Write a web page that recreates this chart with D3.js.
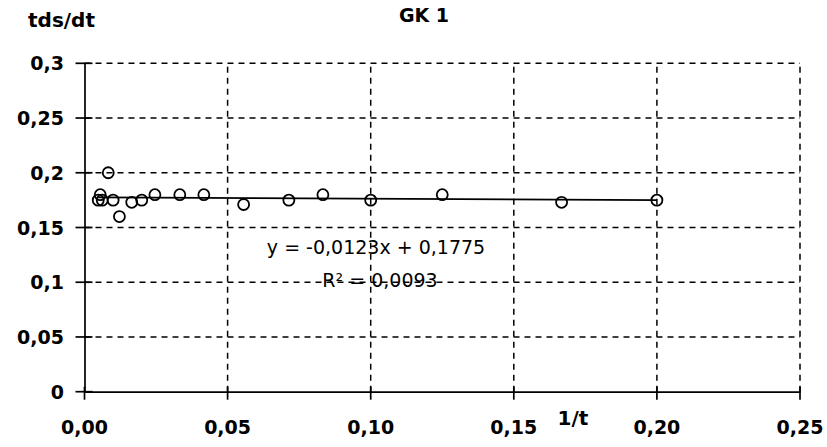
<!DOCTYPE html>
<html>
<head>
<meta charset="utf-8">
<script src="https://cdn.jsdelivr.net/npm/d3@7"></script>
<style>
  html, body { margin: 0; padding: 0; background: #fff; }
  svg { display: block; }
  text { font-family: "DejaVu Sans", sans-serif; fill: #000; }
</style>
</head>
<body>
<svg id="chart" width="827" height="447"></svg>
<script>
// Data
const xValues = [0.0048, 0.0055, 0.0062, 0.0083, 0.0100, 0.0122, 0.0165, 0.0200, 0.0246, 0.0333, 0.0417, 0.0556, 0.0714, 0.0833, 0.1000, 0.1250, 0.1667, 0.2000];
const yValues = [0.175, 0.180, 0.175, 0.200, 0.175, 0.160, 0.173, 0.175, 0.180, 0.180, 0.180, 0.171, 0.175, 0.180, 0.175, 0.180, 0.173, 0.175];
const xTicks = [0, 0.05, 0.10, 0.15, 0.20, 0.25];
const yTicks = [0, 0.05, 0.1, 0.15, 0.2, 0.25, 0.3];
const xTickLabels = ["0,00", "0,05", "0,10", "0,15", "0,20", "0,25"];
const yTickLabels = ["0", "0,05", "0,1", "0,15", "0,2", "0,25", "0,3"];
const trendSlope = -0.0123;
const trendIntercept = 0.1775;
const titleText = "GK 1";
const yTitle = "tds/dt";
const xTitle = "1/t";
const eqText = "y = -0,0123x + 0,1775";
const r2Text = "R² = 0,0093";

const svg = d3.select("#chart");
const x = d3.scaleLinear().domain([0, 0.25]).range([84.5, 800]);
const y = d3.scaleLinear().domain([0, 0.3]).range([391.7, 63.3]);

// Gridlines (dashed)
const grid = svg.append("g");
grid.selectAll("line.h").data(yTicks.slice(1)).enter().append("line")
  .attr("x1", x(0)).attr("x2", x(0.25))
  .attr("y1", d => y(d)).attr("y2", d => y(d))
  .attr("stroke", "#000").attr("stroke-width", 1.5).attr("stroke-dasharray", "6,5");
grid.selectAll("line.v").data(xTicks.slice(1)).enter().append("line")
  .attr("x1", d => x(d)).attr("x2", d => x(d))
  .attr("y1", y(0)).attr("y2", y(0.3))
  .attr("stroke", "#000").attr("stroke-width", 1.5).attr("stroke-dasharray", "6,5");

// Axes
const yAxis = d3.axisLeft(y).tickValues(yTicks).tickSize(0).tickFormat("");
const xAxis = d3.axisBottom(x).tickValues(xTicks).tickSize(0).tickFormat("");
const gy = svg.append("g").attr("transform", `translate(${x(0)},0)`).call(yAxis);
const gx = svg.append("g").attr("transform", `translate(0,${y(0)})`).call(xAxis);
gy.select(".domain").attr("stroke", "#000").attr("stroke-width", 1.7);
gx.select(".domain").attr("stroke", "#000").attr("stroke-width", 1.7);

// cross ticks
svg.append("g").selectAll("line").data(yTicks).enter().append("line")
  .attr("x1", x(0) - 9).attr("x2", x(0) + 8)
  .attr("y1", d => y(d)).attr("y2", d => y(d))
  .attr("stroke", "#000").attr("stroke-width", 1.7);
svg.append("g").selectAll("line").data(xTicks).enter().append("line")
  .attr("x1", d => x(d)).attr("x2", d => x(d))
  .attr("y1", y(0) - 5).attr("y2", y(0) + 8)
  .attr("stroke", "#000").attr("stroke-width", 1.7);

// Tick labels
svg.append("g").selectAll("text").data(yTicks).enter().append("text")
  .attr("x", 64).attr("y", d => y(d) + 7)
  .attr("text-anchor", "end").attr("font-size", 19).attr("font-weight", "bold")
  .text((d, i) => yTickLabels[i]);
svg.append("g").selectAll("text").data(xTicks).enter().append("text")
  .attr("x", d => x(d)).attr("y", 434)
  .attr("text-anchor", "middle").attr("font-size", 19).attr("font-weight", "bold")
  .text((d, i) => xTickLabels[i]);

// Trendline
const xmin = d3.min(xValues), xmax = d3.max(xValues);
svg.append("line")
  .attr("x1", x(xmin)).attr("y1", y(trendSlope * xmin + trendIntercept))
  .attr("x2", x(xmax)).attr("y2", y(trendSlope * xmax + trendIntercept))
  .attr("stroke", "#000").attr("stroke-width", 1.7);

// Points
svg.append("g").selectAll("circle").data(xValues).enter().append("circle")
  .attr("cx", d => x(d)).attr("cy", (d, i) => y(yValues[i]))
  .attr("r", 5.5).attr("fill", "none").attr("stroke", "#000").attr("stroke-width", 1.8);

// Equation text
svg.append("text").attr("x", 376).attr("y", 254).attr("text-anchor", "middle")
  .attr("font-size", 19).text(eqText);
svg.append("text").attr("x", 380).attr("y", 287).attr("text-anchor", "middle")
  .attr("font-size", 19).text(r2Text);

// Titles
svg.append("text").attr("x", 424).attr("y", 22).attr("text-anchor", "middle")
  .attr("font-size", 19).attr("font-weight", "bold").text(titleText);
svg.append("text").attr("x", 28).attr("y", 27).attr("text-anchor", "start")
  .attr("font-size", 20).attr("font-weight", "bold").text(yTitle);
svg.append("text").attr("x", 573).attr("y", 425).attr("text-anchor", "middle")
  .attr("font-size", 20).attr("font-weight", "bold").text(xTitle);
</script>
</body>
</html>
